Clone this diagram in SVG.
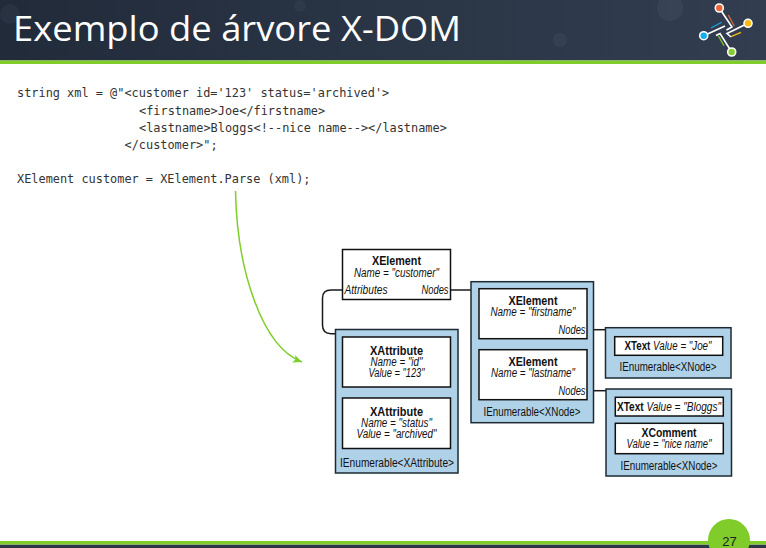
<svg xmlns="http://www.w3.org/2000/svg" width="766" height="548" viewBox="0 0 766 548">
<defs>
<linearGradient id="hdr" x1="0" x2="1" y1="0" y2="0"><stop offset="0" stop-color="#212b3a"/><stop offset="1" stop-color="#323e50"/></linearGradient>
<marker id="arrow" markerUnits="userSpaceOnUse" markerWidth="12" markerHeight="10" refX="9" refY="4" orient="auto"><path d="M0 0L9 4L0 8L2 4Z" fill="#7fcf2a"/></marker>
</defs>
<style>
.blue{fill:#b0d2e8;stroke:#1d2a33;stroke-width:1.5}
.box{fill:#fff;stroke:#111;stroke-width:1.5}
.conn{fill:none;stroke:#1a1a1a;stroke-width:1.5}
text{font-family:"Liberation Sans",Arial,sans-serif;fill:#111;text-anchor:middle;font-size:12.5px}
.b{font-weight:700;font-size:12.5px}
.i{font-style:italic}
.code{font-family:"DejaVu Sans Mono","Liberation Mono",monospace;font-size:11.9px;text-anchor:start;fill:#333}
.lw{stroke:#fff;stroke-width:1.6;fill:none}
</style>
<rect width="766" height="548" fill="#fff"/>
<g id="header">
<rect width="766" height="60.500" fill="url(#hdr)"/>
<g fill="#fff" opacity=".035"><circle cx="10" cy="14" r="10"/><circle cx="300" cy="6" r="6"/><circle cx="560" cy="40" r="7"/><circle cx="670" cy="8" r="13"/></g>
<rect y="60.500" width="766" height="3.500" fill="#7fcc2a"/>
<text x="13" y="41" style="font-family:'Open Sans','Noto Sans',sans-serif;font-size:35px;text-anchor:start;fill:#fff" textLength="448" lengthAdjust="spacingAndGlyphs">Exemplo de árvore X-DOM</text>
</g>
<g id="logo">
<path class="lw" d="M719.300 8L732 27L726.500 30M703.700 35.700L725 26M748 23.300L727 33.500L731 37M731.700 52L720 33.500L716 35.500"/>
<path d="M728.300 15L734.300 26" stroke="#e0663a" stroke-width="1.3"/>
<path d="M711 28L721.700 22.300" stroke="#1aa3dd" stroke-width="1.3"/>
<path d="M731 36.700L741 32.300" stroke="#f5b914" stroke-width="1.3"/>
<path d="M718.300 35.700L724 45.700" stroke="#7fcc2a" stroke-width="1.300"/>
<circle cx="719.300" cy="8" r="4" fill="#e8683a" stroke="#fff" stroke-width="1.600"/>
<circle cx="748" cy="23.300" r="4" fill="#fdb913" stroke="#fff" stroke-width="1.600"/>
<circle cx="703.700" cy="35.700" r="4" fill="#12aef0" stroke="#fff" stroke-width="1.600"/>
<circle cx="731.700" cy="52" r="4" fill="#86cf30" stroke="#fff" stroke-width="1.600"/>
</g>
<g id="code">
<text class="code" x="17" y="97">string xml = @"&lt;customer id='123' status='archived'&gt;</text>
<text class="code" x="139" y="114.500">&lt;firstname&gt;Joe&lt;/firstname&gt;</text>
<text class="code" x="139" y="131.500">&lt;lastname&gt;Bloggs&lt;!--nice name--&gt;&lt;/lastname&gt;</text>
<text class="code" x="124.500" y="149">&lt;/customer&gt;";</text>
<text class="code" x="17" y="183">XElement customer = XElement.Parse (xml);</text>
</g>
<g id="connectors">
<path class="conn" d="M343 290H331Q322.500 290 322.500 298V325Q322.500 333.700 331 333.700H336"/>
<path class="conn" d="M450 290H471"/>
<path class="conn" d="M587 329.700H606"/>
<path class="conn" d="M587 390.700H606"/>
<path d="M235.500 191C237 270 262 347 302 362" fill="none" stroke="#7fcf2a" stroke-width="1.500" marker-end="url(#arrow)"/>
</g>
<g id="customer">
<rect class="box" x="342.500" y="249.500" width="108" height="50"/>
<text class="b" x="396.500" y="265" textLength="49" lengthAdjust="spacingAndGlyphs">XElement</text>
<text class="i" x="396.500" y="277" textLength="85" lengthAdjust="spacingAndGlyphs">Name = "customer"</text>
<text class="i" x="366" y="294" textLength="43" lengthAdjust="spacingAndGlyphs">Attributes</text>
<text class="i" x="435" y="294" textLength="27" lengthAdjust="spacingAndGlyphs">Nodes</text>
</g>
<g id="attributes">
<rect class="blue" x="335.500" y="329.500" width="122.500" height="143.500"/>
<text x="397" y="466.500" textLength="114" lengthAdjust="spacingAndGlyphs">IEnumerable&lt;XAttribute&gt;</text>
</g>
<g id="attr-id">
<rect class="box" x="342.500" y="337" width="108" height="50"/>
<text class="b" x="396.500" y="354.500" textLength="53" lengthAdjust="spacingAndGlyphs">XAttribute</text>
<text class="i" x="396.500" y="366" textLength="52" lengthAdjust="spacingAndGlyphs">Name = "id"</text>
<text class="i" x="396.500" y="377" textLength="56" lengthAdjust="spacingAndGlyphs">Value = "123"</text>
</g>
<g id="attr-status">
<rect class="box" x="342.500" y="398" width="108" height="50.500"/>
<text class="b" x="396.500" y="415.500" textLength="53" lengthAdjust="spacingAndGlyphs">XAttribute</text>
<text class="i" x="396.500" y="427" textLength="71" lengthAdjust="spacingAndGlyphs">Name = "status"</text>
<text class="i" x="396.500" y="438" textLength="80" lengthAdjust="spacingAndGlyphs">Value = "archived"</text>
</g>
<g id="nodes">
<rect class="blue" x="471" y="281.700" width="122.500" height="141"/>
<text x="532" y="416" textLength="97" lengthAdjust="spacingAndGlyphs">IEnumerable&lt;XNode&gt;</text>
</g>
<g id="firstname">
<rect class="box" x="479" y="288.700" width="108" height="50"/>
<text class="b" x="533" y="304.500" textLength="49" lengthAdjust="spacingAndGlyphs">XElement</text>
<text class="i" x="533" y="316" textLength="85" lengthAdjust="spacingAndGlyphs">Name = "firstname"</text>
<text class="i" x="572" y="333.500" textLength="27" lengthAdjust="spacingAndGlyphs">Nodes</text>
</g>
<g id="lastname">
<rect class="box" x="479" y="349.700" width="108" height="50"/>
<text class="b" x="533" y="365.500" textLength="49" lengthAdjust="spacingAndGlyphs">XElement</text>
<text class="i" x="533" y="377" textLength="84" lengthAdjust="spacingAndGlyphs">Name = "lastname"</text>
<text class="i" x="572" y="394.500" textLength="27" lengthAdjust="spacingAndGlyphs">Nodes</text>
</g>
<g id="joe-list">
<rect class="blue" x="605.500" y="327.700" width="125.500" height="50.300"/>
<text x="668" y="371" textLength="97" lengthAdjust="spacingAndGlyphs">IEnumerable&lt;XNode&gt;</text>
</g>
<g id="joe">
<rect class="box" x="614.700" y="336.700" width="108" height="18.600"/>
<text x="668" y="350" textLength="87" lengthAdjust="spacingAndGlyphs"><tspan class="b">XText</tspan> <tspan class="i">Value = "Joe"</tspan></text>
</g>
<g id="bloggs-list">
<rect class="blue" x="606" y="389" width="125.500" height="87"/>
<text x="669" y="470" textLength="97" lengthAdjust="spacingAndGlyphs">IEnumerable&lt;XNode&gt;</text>
</g>
<g id="bloggs">
<rect class="box" x="615.300" y="397.300" width="108" height="18.700"/>
<text x="669" y="411" textLength="104" lengthAdjust="spacingAndGlyphs"><tspan class="b">XText</tspan> <tspan class="i">Value = "Bloggs"</tspan></text>
</g>
<g id="comment">
<rect class="box" x="615.300" y="423.300" width="108" height="30.400"/>
<text class="b" x="669" y="436.500" textLength="55" lengthAdjust="spacingAndGlyphs">XComment</text>
<text class="i" x="669" y="448" textLength="85" lengthAdjust="spacingAndGlyphs">Value = "nice name"</text>
</g>
<g id="footer">
<rect y="544.500" width="766" height="3.500" fill="#2b3648"/>
<rect y="541" width="766" height="3.500" fill="#7fcc2a"/>
<circle cx="729" cy="540" r="21" fill="#7fcc2a"/>
<text x="729.500" y="545.500" style="font-size:13px;fill:#222">27</text>
</g>
</svg>
